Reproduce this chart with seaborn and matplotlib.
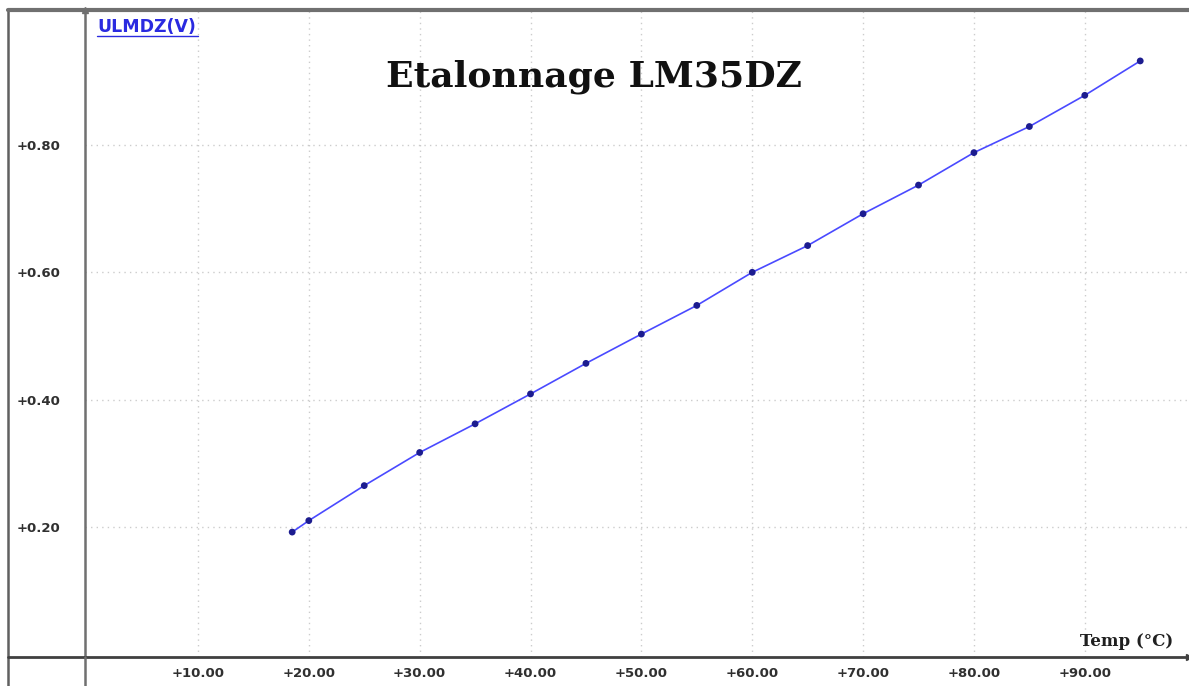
import matplotlib
matplotlib.use("Agg")
import matplotlib.pyplot as plt
from matplotlib.lines import Line2D
from matplotlib.ticker import FixedLocator, FixedFormatter
import seaborn as sns
import pandas as pd

# ---- data ----
temperature_c = [18.5, 20, 25, 30, 35, 40, 45, 50, 55, 60, 65, 70, 75, 80, 85, 90, 95]
voltage_v = [0.192, 0.210, 0.265, 0.317, 0.362, 0.409, 0.457, 0.503, 0.548, 0.600,
             0.642, 0.692, 0.737, 0.788, 0.829, 0.878, 0.932]
x_ticks = [10, 20, 30, 40, 50, 60, 70, 80, 90]
x_tick_labels = ["+10.00", "+20.00", "+30.00", "+40.00", "+50.00",
                 "+60.00", "+70.00", "+80.00", "+90.00"]
y_ticks = [0.2, 0.4, 0.6, 0.8]
y_tick_labels = ["+0.20", "+0.40", "+0.60", "+0.80"]
title_text = "Etalonnage LM35DZ"
y_label_text = "ULMDZ(V)"
x_label_text = "Temp (°C)"

df = pd.DataFrame({"Temp": temperature_c, "U": voltage_v})

sns.set_style("white")
plt.rcParams["font.family"] = ["DejaVu Sans"]

W, H = 1189, 686
fig = plt.figure(figsize=(W / 100, H / 100), dpi=100)
fig.patch.set_facecolor("white")

# axes: left spine = y axis (x=85 px), bottom spine = x axis (y=657 px), top = 10 px
ax_l, ax_r, ax_t, ax_b = 85, 1189, 10, 657
ax = fig.add_axes([ax_l / W, 1 - ax_b / H, (ax_r - ax_l) / W, (ax_b - ax_t) / H])
ax.set_facecolor("white")

sns.lineplot(data=df, x="Temp", y="U", ax=ax, color="#4a4aff", lw=1.2,
             sort=False, zorder=3)
sns.scatterplot(data=df, x="Temp", y="U", ax=ax, color="#1c1c8f", s=24,
                edgecolor="none", zorder=4)

ax.set_xlim(-0.19, 99.4)
ax.set_ylim(-0.0042, 1.012)

ax.xaxis.set_major_locator(FixedLocator(x_ticks))
ax.xaxis.set_major_formatter(FixedFormatter(x_tick_labels))
ax.yaxis.set_major_locator(FixedLocator(y_ticks))
ax.yaxis.set_major_formatter(FixedFormatter(y_tick_labels))
ax.tick_params(axis="x", length=0, pad=7, labelsize=9.5, labelcolor="#303030")
ax.tick_params(axis="y", length=0, pad=18, labelsize=9.5, labelcolor="#303030")
for lab in ax.get_xticklabels() + ax.get_yticklabels():
    lab.set_fontweight("bold")

ax.grid(True, linestyle=(0, (1, 3)), color="#cccccc", lw=1.0)
ax.set_xlabel("")
ax.set_ylabel("")

for s in ["top", "right"]:
    ax.spines[s].set_visible(False)
ax.spines["left"].set_color("#707070")
ax.spines["left"].set_linewidth(1.8)
ax.spines["bottom"].set_color("#404040")
ax.spines["bottom"].set_linewidth(2.0)

# small arrow heads at axis ends
ax.plot([1.0], [0.0], marker=">", color="#404040", ms=5, transform=ax.transAxes, clip_on=False)
ax.plot([0.0], [1.0], marker="^", color="#707070", ms=4, transform=ax.transAxes, clip_on=False)

# frame and axis extensions (figure coordinates)
def fx(px):
    return px / W

def fy(py):
    return 1 - py / H

fig.add_artist(Line2D([fx(8), fx(8)], [fy(10), fy(686)], color="#606060", lw=1.8))
fig.add_artist(Line2D([fx(8), fx(1189)], [fy(10), fy(10)], color="#707070", lw=3.0))
fig.add_artist(Line2D([fx(8), fx(85)], [fy(657), fy(657)], color="#404040", lw=2.0))
fig.add_artist(Line2D([fx(85), fx(85)], [fy(657), fy(686)], color="#707070", lw=1.8))

# texts
fig.text(fx(594), fy(77), title_text, ha="center", va="center",
         fontsize=26, fontweight="bold", family="DejaVu Serif", color="#111111")
fig.text(fx(97), fy(27), y_label_text, ha="left", va="center",
         fontsize=12.5, fontweight="bold", color="#2a2ae0")
fig.add_artist(Line2D([fx(97), fx(198)], [fy(36), fy(36)], color="#2a2ae0", lw=1.0))
fig.text(fx(1173), fy(641), x_label_text, ha="right", va="center",
         fontsize=12, fontweight="bold", family="DejaVu Serif", color="#202020")

fig.savefig("out.png", dpi=100, facecolor="white")
